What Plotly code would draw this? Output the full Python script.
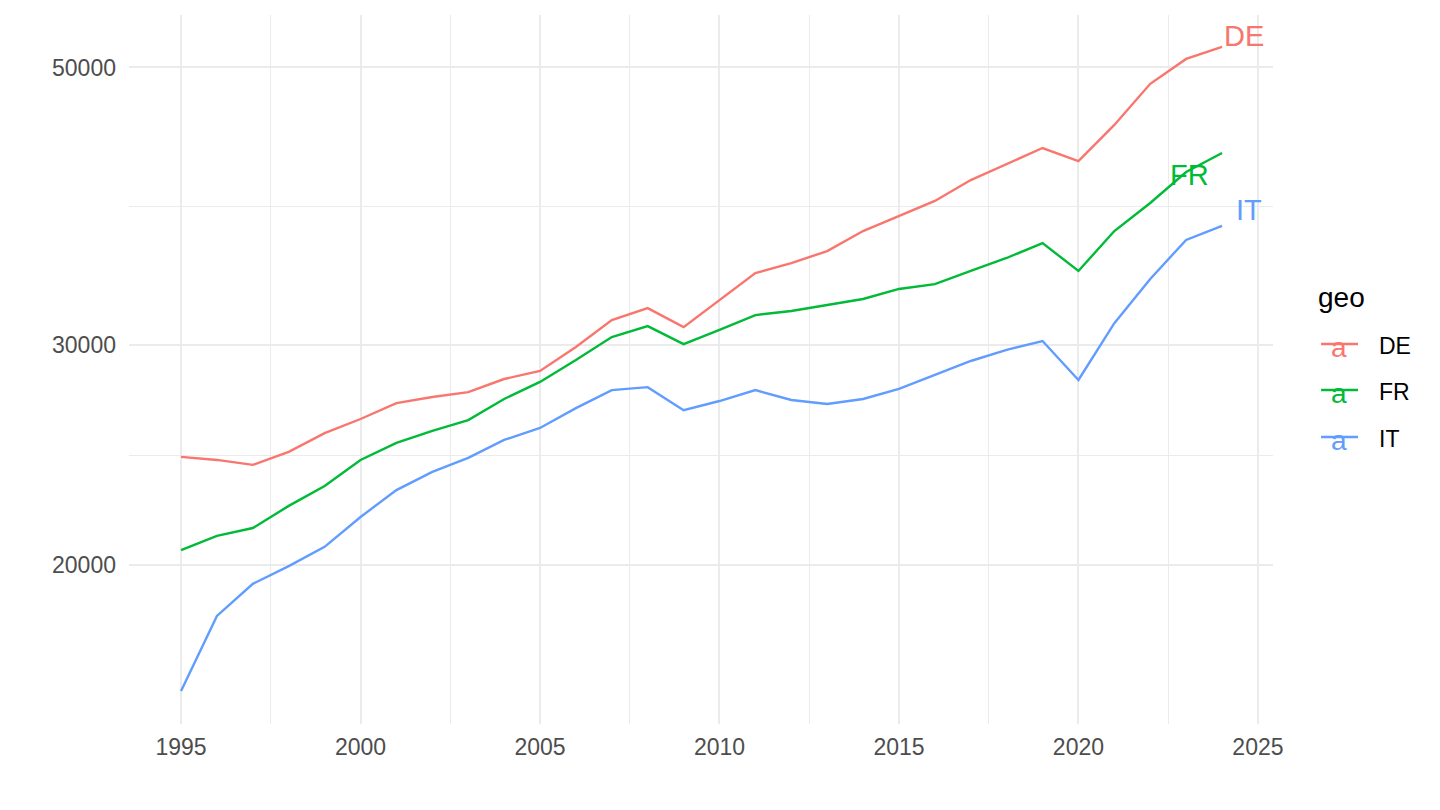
import math
import plotly.graph_objects as go

years = list(range(1995, 2025))

DE = [24417, 24280, 24060, 24640, 25510, 26180, 26960, 27260, 27510, 28180,
      28600, 29890, 31410, 32110, 31000, 32590, 34250, 34880, 35660, 37000,
      38040, 39110, 40640, 41860, 43110, 42090, 44980, 48520, 50790, 51930]
FR = [20570, 21110, 21420, 22310, 23140, 24280, 25050, 25610, 26130, 27160,
      28030, 29180, 30440, 31060, 30050, 30840, 31700, 31940, 32290, 32650,
      33260, 33560, 34380, 35210, 36190, 34380, 37000, 38960, 41250, 42720]
IT = [15870, 18220, 19330, 19970, 20690, 21860, 22970, 23750, 24370, 25190,
      25750, 26710, 27610, 27760, 26610, 27060, 27610, 27110, 26910, 27160,
      27670, 28390, 29130, 29730, 30220, 28130, 31230, 33880, 36400, 37350]

series = {"DE": DE, "FR": FR, "IT": IT}
colors = {"DE": "#F8766D", "FR": "#00BA38", "IT": "#619CFF"}
# pixel offsets of the end labels relative to each series' last point
label_shift = {"DE": (22, 11), "FR": (-33, -22), "IT": (27, 16)}

x_ticks = [1995, 2000, 2005, 2010, 2015, 2020, 2025]
y_ticks = [20000, 30000, 50000]
y_ticktext = ["20000", "30000", "50000"]

FONT = "Liberation Sans, Arial, sans-serif"
GRID = "#EBEBEB"

fig = go.Figure()
for name, vals in series.items():
    fig.add_trace(go.Scatter(
        x=years, y=vals, mode="lines", name=name,
        line=dict(color=colors[name], width=2.4),
        showlegend=False,
    ))
    dx, dy = label_shift[name]
    fig.add_annotation(
        x=years[-1], y=math.log10(vals[-1]), text=name, showarrow=False,
        xshift=dx, yshift=dy, xanchor="center", yanchor="middle",
        font=dict(family=FONT, size=29, color=colors[name]),
    )

# ggplot-style legend (title, keys with "a" glyph, labels), in paper coords
fig.add_annotation(
    xref="paper", yref="paper", x=1.0375, y=0.601,
    xanchor="left", yanchor="middle", showarrow=False, text="geo",
    font=dict(family=FONT, size=28, color="black"),
)
key_line_y = [0.5360, 0.4711, 0.4048]
for name, ky in zip(series, key_line_y):
    fig.add_shape(
        type="line", xref="paper", yref="paper",
        x0=1.0420, x1=1.0743, y0=ky, y1=ky,
        line=dict(color=colors[name], width=2.4),
    )
    fig.add_annotation(
        xref="paper", yref="paper", x=1.0577, y=ky - 0.0043,
        xanchor="center", yanchor="middle", showarrow=False, text="a",
        font=dict(family=FONT, size=28, color=colors[name]),
    )
    fig.add_annotation(
        xref="paper", yref="paper", x=1.0905, y=ky - 0.0028,
        xanchor="left", yanchor="middle", showarrow=False, text=name,
        font=dict(family=FONT, size=23, color="black"),
    )

x_minor = [(a + b) / 2 for a, b in zip(x_ticks[:-1], x_ticks[1:])]
y_minor = [math.sqrt(a * b) for a, b in zip(y_ticks[:-1], y_ticks[1:])]

fig.update_xaxes(
    range=[1993.55, 2025.42],
    tickmode="array", tickvals=x_ticks,
    showgrid=True, gridcolor=GRID, gridwidth=2.2,
    zeroline=False, showline=False, ticks="",
    ticklabelstandoff=7,
    tickfont=dict(family=FONT, size=23, color="#4D4D4D"),
    minor=dict(tickmode="array", tickvals=x_minor, showgrid=True,
               gridcolor=GRID, gridwidth=1.1, ticks=""),
)
fig.update_yaxes(
    type="log",
    range=[4.17416, 4.74091],
    tickmode="array", tickvals=y_ticks, ticktext=y_ticktext,
    showgrid=True, gridcolor=GRID, gridwidth=2.2,
    zeroline=False, showline=False, ticks="",
    ticklabelstandoff=12,
    tickfont=dict(family=FONT, size=23, color="#4D4D4D"),
    minor=dict(tickmode="array", tickvals=y_minor, showgrid=True,
               gridcolor=GRID, gridwidth=1.1, ticks=""),
)

fig.update_layout(
    width=1432, height=802,
    margin=dict(l=121, r=167, t=7, b=86),
    paper_bgcolor="white", plot_bgcolor="white",
    font=dict(family=FONT),
    showlegend=False,
)

fig.write_html("out.html")
